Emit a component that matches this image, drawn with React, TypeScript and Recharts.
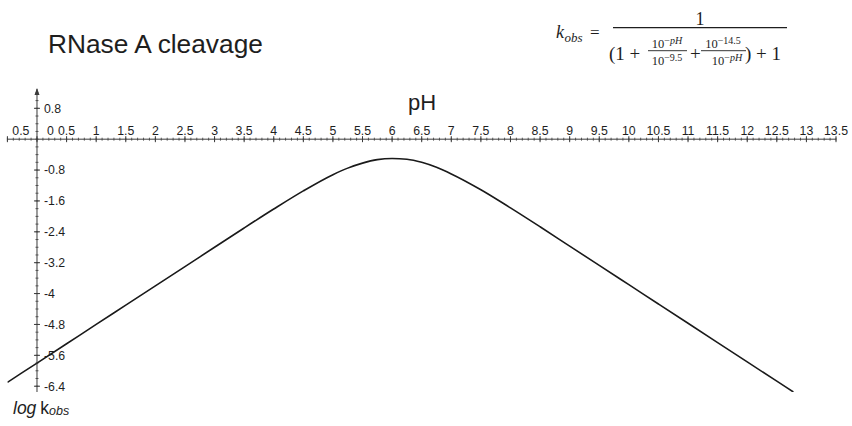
import React from 'react';
import { LineChart, Line, XAxis, YAxis, ReferenceLine, ReferenceDot } from 'recharts';

// pH values and read-off log k_obs values of the curve
const phValues = [-0.5, 0, 0.5, 1, 1.5, 2, 2.5, 3, 3.5, 4, 4.5, 5, 5.25, 5.5, 5.75, 6, 6.25, 6.5, 6.75, 7, 7.5, 8, 8.5, 9, 9.5, 10, 10.5, 11, 11.5, 12, 12.5, 12.78];
const logKobs = [-6.3, -5.8, -5.3, -4.8, -4.3, -3.8, -3.3, -2.8, -2.3, -1.81, -1.34, -0.92, -0.75, -0.62, -0.53, -0.5, -0.52, -0.6, -0.73, -0.9, -1.31, -1.78, -2.27, -2.77, -3.27, -3.77, -4.27, -4.77, -5.27, -5.77, -6.27, -6.55];

// axis ticks
const xTicks = [-0.5, 0, 0.5, 1, 1.5, 2, 2.5, 3, 3.5, 4, 4.5, 5, 5.5, 6, 6.5, 7, 7.5, 8, 8.5, 9, 9.5, 10, 10.5, 11, 11.5, 12, 12.5, 13, 13.5];
const xTickLabels = ['0.5', '0', '0.5', '1', '1.5', '2', '2.5', '3', '3.5', '4', '4.5', '5', '5.5', '6', '6.5', '7', '7.5', '8', '8.5', '9', '9.5', '10', '10.5', '11', '11.5', '12', '12.5', '13', '13.5'];
const yTicks = [0.8, -0.8, -1.6, -2.4, -3.2, -4, -4.8, -5.6, -6.4];
const yTickLabels = ['0.8', '-0.8', '-1.6', '-2.4', '-3.2', '-4', '-4.8', '-5.6', '-6.4'];

const xDomain = [-0.5, 13.5];
const yDomain = [-6.55, 1.3];

const xMinor: number[] = [];
for (let i = -5; i <= 135; i++) xMinor.push(i / 10);
const yMinor: number[] = [];
for (let i = -32; i <= 6; i++) yMinor.push(i / 5);

const data = phValues.map((ph, i) => ({ ph, v: logKobs[i] }));

const AX = '#3a3a3a';
const TXT = '#1e1e1e';
const SANS = '"Liberation Sans", Arial, Helvetica, sans-serif';
const SERIF = '"Liberation Serif", "Times New Roman", serif';

export default function App() {
  return (
    <div style={{ position: 'absolute', left: 0, top: 0, width: 852, height: 426, background: '#fff' }}>
      <LineChart width={852} height={426} data={data} margin={{ top: 89, right: 16, bottom: 34, left: 7.4 }}>
        <XAxis type="number" dataKey="ph" domain={xDomain} hide allowDataOverflow />
        <YAxis type="number" domain={yDomain} hide allowDataOverflow />
        <ReferenceLine y={0} stroke={AX} strokeWidth={1} ifOverflow="visible" />
        <ReferenceLine x={0} stroke={AX} strokeWidth={1} ifOverflow="visible" />
        {xMinor.map((t) => (
          <ReferenceDot key={'xm' + t} x={t} y={0} ifOverflow="visible"
            shape={(p: any) => <line x1={p.cx} x2={p.cx} y1={p.cy - 1.5} y2={p.cy + 1.5} stroke={AX} strokeWidth={0.8} />} />
        ))}
        {yMinor.map((t) => (
          <ReferenceDot key={'ym' + t} x={0} y={t} ifOverflow="visible"
            shape={(p: any) => <line x1={p.cx - 1.5} x2={p.cx + 1.5} y1={p.cy} y2={p.cy} stroke={AX} strokeWidth={0.8} />} />
        ))}
        {xTicks.map((t, i) => (
          <ReferenceDot key={'xt' + t} x={t} y={0} ifOverflow="visible"
            shape={(p: any) => (
              <g>
                <line x1={p.cx} x2={p.cx} y1={p.cy - 3} y2={p.cy + 3} stroke={AX} strokeWidth={1} />
                <text x={p.cx + (t <= 0 ? 13.5 : 0)} y={p.cy - 4} textAnchor="middle" fontSize={12.3} fontFamily={SANS} fill={TXT}>{xTickLabels[i]}</text>
              </g>
            )} />
        ))}
        {yTicks.map((t, i) => (
          <ReferenceDot key={'yt' + t} x={0} y={t} ifOverflow="visible"
            shape={(p: any) => (
              <g>
                <line x1={p.cx - 3} x2={p.cx + 3} y1={p.cy} y2={p.cy} stroke={AX} strokeWidth={1} />
                <text x={p.cx + 7} y={p.cy + 4.3} textAnchor="start" fontSize={12.3} fontFamily={SANS} fill={TXT}>{yTickLabels[i]}</text>
              </g>
            )} />
        ))}
        <ReferenceDot x={0} y={yDomain[1]} ifOverflow="visible"
          shape={(p: any) => <polygon points={`${p.cx},${p.cy - 1} ${p.cx - 2.5},${p.cy + 6} ${p.cx + 2.5},${p.cy + 6}`} fill={AX} />} />
        <Line dataKey="v" type="monotone" stroke="#1a1a1a" strokeWidth={1.6} dot={false} isAnimationActive={false} />
      </LineChart>
      <svg width={852} height={426} style={{ position: 'absolute', left: 0, top: 0, pointerEvents: 'none' }}>
        <text x={48} y={53} fontSize={26.3} fontFamily={SANS} fill={TXT}>RNase A cleavage</text>
        <text x={422} y={110} textAnchor="middle" fontSize={22} fontFamily={SANS} fill={TXT}>pH</text>
        <text x={13} y={414} fontFamily={SANS} fill={TXT}>
          <tspan fontSize={17.5} fontStyle="italic">log</tspan>
          <tspan fontSize={17.5} dx={4}>k</tspan>
          <tspan fontSize={12.5} fontStyle="italic" dy={1}>obs</tspan>
        </text>
        {/* formula */}
        <g fontFamily={SERIF} fill={TXT}>
          <text x={556} y={38} fontSize={18} fontStyle="italic">k</text>
          <text x={564.5} y={42} fontSize={13} fontStyle="italic">obs</text>
          <text x={590} y={38} fontSize={17}>=</text>
          <line x1={613} x2={787} y1={27.7} y2={27.7} stroke={TXT} strokeWidth={1.3} />
          <text x={700} y={25} fontSize={18} textAnchor="middle">1</text>
          <text x={609} y={60} fontSize={19}>(1 +</text>
          <text x={667} y={48} fontSize={12.5} textAnchor="middle">10<tspan fontSize={10} dy={-4}>−</tspan><tspan fontSize={10} fontStyle="italic">pH</tspan></text>
          <line x1={648} x2={687} y1={50.7} y2={50.7} stroke={TXT} strokeWidth={0.9} />
          <text x={667} y={65} fontSize={12.5} textAnchor="middle">10<tspan fontSize={10} dy={-4}>−9.5</tspan></text>
          <text x={690} y={60} fontSize={19}>+</text>
          <text x={723} y={48} fontSize={12.5} textAnchor="middle">10<tspan fontSize={10} dy={-4}>−14.5</tspan></text>
          <line x1={701} x2={746} y1={50.7} y2={50.7} stroke={TXT} strokeWidth={0.9} />
          <text x={727} y={65} fontSize={12.5} textAnchor="middle">10<tspan fontSize={10} dy={-4}>−</tspan><tspan fontSize={10} fontStyle="italic">pH</tspan></text>
          <text x={745} y={60} fontSize={19}>) + 1</text>
        </g>
      </svg>
    </div>
  );
}
